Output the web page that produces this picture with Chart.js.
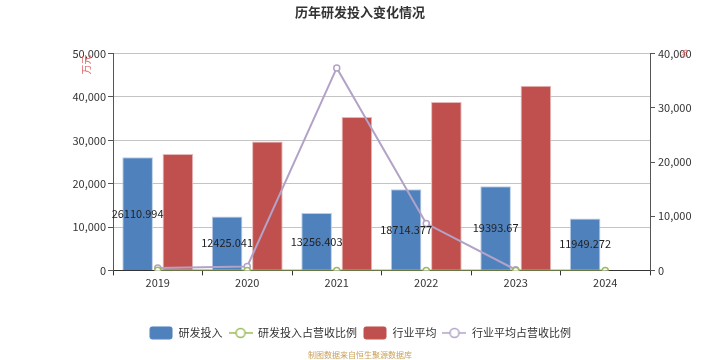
<!DOCTYPE html>
<html>
<head>
<meta charset="utf-8">
<script src="https://cdn.jsdelivr.net/npm/chart.js@4"></script>
<style>
  html, body { margin: 0; padding: 0; background: #fff; }
  #wrap { width: 720px; height: 360px; }
</style>
</head>
<body>
<div id="wrap"><canvas id="bar_chart" width="720" height="360"></canvas></div>
<script>
// chart values
var years = ['2019', '2020', '2021', '2022', '2023', '2024'];
var rdSpend = [26110.994, 12425.041, 13256.403, 18714.377, 19393.67, 11949.272];
var rdRatio = [5.1, 2.6, 2.8, 3.9, 4.1, 2.7];
var industryAvg = [26850, 29700, 35350, 38820, 42590, null];
var industryRatio = [430, 740, 37350, 8650, 120, null];
var leftTicks = [0, 10000, 20000, 30000, 40000, 50000];
var rightTicks = [0, 10000, 20000, 30000, 40000];

var FONT = "'Noto Sans CJK SC', 'Noto Sans', sans-serif";
var BLUE = '#4f81bd', RED = '#c0504d', GREEN = '#9bbb59', PURPLE = '#b3a2c7';

function barIcon(color) {
    var c = document.createElement('canvas');
    c.width = 24; c.height = 14;
    var ctx = c.getContext('2d');
    ctx.fillStyle = color;
    ctx.beginPath();
    ctx.roundRect(0.5, 0.5, 23, 13, 3);
    ctx.fill();
    return c;
}

function lineIcon(color) {
    var c = document.createElement('canvas');
    c.width = 24; c.height = 14;
    var ctx = c.getContext('2d');
    ctx.strokeStyle = color;
    ctx.lineWidth = 1.5;
    ctx.beginPath();
    ctx.moveTo(0, 7); ctx.lineTo(24, 7);
    ctx.stroke();
    ctx.beginPath();
    ctx.arc(12, 7, 4.5, 0, Math.PI * 2);
    ctx.fillStyle = '#fff';
    ctx.fill();
    ctx.stroke();
    return c;
}

var icons = [barIcon(BLUE), lineIcon(GREEN), barIcon(RED), lineIcon(PURPLE)];

// value labels inside the blue bars + unit marks
var extras = {
    id: 'extras',
    afterDatasetsDraw: function (chart) {
        var ctx = chart.ctx;
        var meta = chart.getDatasetMeta(0);
        ctx.save();
        ctx.font = '11px ' + FONT;
        ctx.fillStyle = '#222';
        ctx.textAlign = 'center';
        ctx.textBaseline = 'middle';
        meta.data.forEach(function (bar, i) {
            ctx.fillText(String(rdSpend[i]), bar.x, (bar.y + bar.base) / 2);
        });
        ctx.restore();

        var y = chart.scales.y, y1 = chart.scales.y1;
        ctx.save();
        ctx.fillStyle = '#e06666';
        ctx.font = '10px ' + FONT;
        ctx.textAlign = 'center';
        ctx.textBaseline = 'middle';
        ctx.translate(y.left + 86, y.top + 11);
        ctx.rotate(-Math.PI / 2);
        ctx.fillText('万元', 0, 0);
        ctx.restore();
        ctx.save();
        ctx.fillStyle = '#e06666';
        ctx.font = '9px ' + FONT;
        ctx.textAlign = 'center';
        ctx.textBaseline = 'middle';
        ctx.translate(y1.left + 35, y1.top);
        ctx.rotate(-Math.PI / 2);
        ctx.fillText('%', 0, 0);
        ctx.restore();
    }
};

new Chart(document.getElementById('bar_chart').getContext('2d'), {
    type: 'bar',
    data: {
        labels: years,
        datasets: [{
            label: '研发投入',
            data: rdSpend,
            backgroundColor: BLUE,
            borderColor: '#b9cde5',
            borderWidth: 1,
            yAxisID: 'y',
            order: 1
        }, {
            type: 'line',
            label: '研发投入占营收比例',
            data: rdRatio,
            borderColor: GREEN,
            borderWidth: 2,
            pointRadius: 3,
            pointBackgroundColor: '#fff',
            pointBorderColor: GREEN,
            pointBorderWidth: 1.5,
            yAxisID: 'y1',
            order: 0
        }, {
            label: '行业平均',
            data: industryAvg,
            backgroundColor: RED,
            borderColor: '#e6b9b8',
            borderWidth: 1,
            yAxisID: 'y',
            order: 1
        }, {
            type: 'line',
            label: '行业平均占营收比例',
            data: industryRatio,
            borderColor: PURPLE,
            borderWidth: 2,
            pointRadius: 3,
            pointBackgroundColor: '#fff',
            pointBorderColor: PURPLE,
            pointBorderWidth: 1.5,
            yAxisID: 'y1',
            order: 0
        }]
    },
    options: {
        responsive: false,
        animation: false,
        devicePixelRatio: 1,
        layout: { padding: 0 },
        datasets: {
            bar: { categoryPercentage: 0.9, barPercentage: 0.76 }
        },
        plugins: {
            title: {
                display: true,
                text: '历年研发投入变化情况',
                color: '#333',
                font: { family: FONT, size: 13, weight: 'bold' },
                padding: { top: 4, bottom: 34 }
            },
            subtitle: {
                display: true,
                position: 'bottom',
                text: '制图数据来自恒生聚源数据库',
                color: '#c9a15a',
                font: { family: FONT, size: 8 },
                padding: { top: 2, bottom: 0 }
            },
            legend: {
                position: 'bottom',
                labels: {
                    usePointStyle: true,
                    pointStyleWidth: 24,
                    boxHeight: 14,
                    padding: 6,
                    color: '#333',
                    font: { family: FONT, size: 11 },
                    generateLabels: function (chart) {
                        return chart.data.datasets.map(function (ds, i) {
                            return {
                                text: ds.label,
                                pointStyle: icons[i],
                                datasetIndex: i,
                                hidden: false,
                                lineWidth: 0,
                                fontColor: '#333'
                            };
                        });
                    }
                }
            },
            tooltip: { enabled: false }
        },
        scales: {
            x: {
                offset: true,
                grid: { display: true, drawOnChartArea: false, offset: true, tickLength: 5, tickColor: '#333' },
                border: { color: '#333', width: 1 },
                ticks: { color: '#333', padding: 1, font: { family: FONT, size: 11 } },
                afterFit: function (s) { s.height = 51; }
            },
            y: {
                position: 'left',
                min: 0,
                max: 50000,
                afterBuildTicks: function (s) { s.ticks = leftTicks.map(function (v) { return { value: v }; }); },
                ticks: {
                    color: '#333',
                    padding: 2,
                    font: { family: FONT, size: 11 },
                    callback: function (v) { return v.toLocaleString('en-US'); }
                },
                grid: { color: '#c4c4c4', tickColor: '#555', tickLength: 5 },
                border: { color: '#555', width: 1 },
                afterFit: function (s) { s.width = 113; }
            },
            y1: {
                position: 'right',
                min: 0,
                max: 40000,
                afterBuildTicks: function (s) { s.ticks = rightTicks.map(function (v) { return { value: v }; }); },
                ticks: {
                    color: '#333',
                    padding: 3,
                    font: { family: FONT, size: 11 },
                    callback: function (v) { return v.toLocaleString('en-US'); }
                },
                grid: { drawOnChartArea: false, tickColor: '#555', tickLength: 5 },
                border: { color: '#555', width: 1 },
                afterFit: function (s) { s.width = 70; }
            }
        }
    },
    plugins: [extras]
});
</script>
</body>
</html>
